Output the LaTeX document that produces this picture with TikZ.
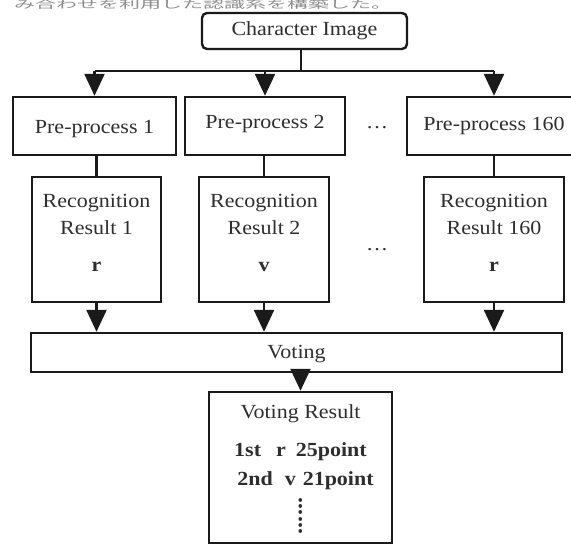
\documentclass[tikz,border=0pt]{standalone}
\usepackage{fontspec}
\setmainfont{Liberation Serif}[FakeStretch=1.1]
\newfontfamily\jpfont{Noto Sans CJK JP}[FakeStretch=2.0]
\usetikzlibrary{arrows.meta,positioning}
\definecolor{ink}{HTML}{1A1A1A}
\definecolor{textgray}{HTML}{2E2E2E}
\definecolor{faint}{HTML}{8C8C8C}
\newcommand{\lift}[2]{\raisebox{#1}[\height][\depth]{#2}}

\begin{document}
\begin{tikzpicture}[
  x=1pt, y=-1pt,
  box/.style={
    draw=ink,
    fill=white,
    line width=2.4pt,
    text=textgray,
    align=center,
    inner sep=0pt,
    font=\fontsize{20}{27}\selectfont
  },
  stem/.style={
    draw=ink,
    line width=2.4pt
  },
  connector/.style={
    -{Triangle[length=22pt,width=20pt]},
    draw=ink,
    line width=2.4pt
  },
  ellip/.style={
    text=textgray,
    font=\fontsize{20}{24}\selectfont
  }
]
\useasboundingbox (0,0) rectangle (571,546);

% caption line of the page above the figure
\node[anchor=base west, text=faint, inner sep=0pt,
  font=\jpfont\fontsize{10.5}{10.5}\selectfont] (caption) at (14,9)
  {み合わせを利用した認識系を構築した。};

\node[box, rounded corners=5pt, minimum width=205pt, minimum height=36pt]
  (ci) at (304.5,31) {Character Image};

% pre-processing
\node[box, minimum width=163pt, minimum height=58pt] (pp1) at (94.5,126) {\lift{-3pt}{Pre-process 1}};
\node[box, minimum width=160pt, minimum height=58pt] (pp2) at (265,126) {\lift{2pt}{Pre-process 2}};
\node[box, minimum width=174pt, minimum height=58pt] (pp3) at (494,126) {Pre-process 160};
\node[ellip] (dots1) at (377,128) {\dots};

% recognition
\node[box, minimum width=129pt, minimum height=125pt] (rr1) at (96.5,239.5)
  {\lift{5pt}{\begin{tabular}{@{}c@{}}Recognition\\Result 1\\[10pt]\textbf{r}\end{tabular}}};
\node[box, minimum width=130pt, minimum height=125pt] (rr2) at (264,239.5)
  {\lift{5pt}{\begin{tabular}{@{}c@{}}Recognition\\Result 2\\[10pt]\textbf{v}\end{tabular}}};
\node[box, minimum width=140pt, minimum height=125pt] (rr3) at (494,239.5)
  {\lift{5pt}{\begin{tabular}{@{}c@{}}Recognition\\Result 160\\[10pt]\textbf{r}\end{tabular}}};
\node[ellip] (dots2) at (377,250) {\dots};

\node[box, minimum width=531pt, minimum height=39pt] (vote) at (296.5,352.5) {\lift{-2pt}{Voting}};

\node[box, minimum width=183pt, minimum height=151pt] (result) at (300.5,467.5)
  {\lift{-5pt}{\begin{tabular}{@{}c@{}}\lift{3pt}{Voting Result}\\[8pt]
   \textbf{1st\hspace{15pt}r\hspace{10pt}25point}\\[2pt]
   \hspace{10pt}\textbf{2nd\hspace{12pt}v\hspace{7pt}21point}\\[4pt]
   \rotatebox{90}{\textbf{\fontsize{22}{22}\selectfont ......}}\end{tabular}}};

\coordinate (fork) at (301,71);
\coordinate (split1) at (pp1.north |- fork);
\coordinate (split2) at (pp2.north |- fork);
\coordinate (split3) at (pp3.north |- fork);
\draw[stem] (ci.south -| fork) -- (fork);
\draw[stem] (split1) -- (split3);
\foreach \i in {1,2,3} {
  \draw[connector] (split\i) -- (pp\i.north);
  \draw[stem] (rr\i.north |- pp\i.south) -- (rr\i.north);
  \draw[connector] (rr\i.south) -- (rr\i.south |- vote.north);
}
\draw[connector] (result.north |- vote.south) -- (result.north);
\end{tikzpicture}
\end{document}
